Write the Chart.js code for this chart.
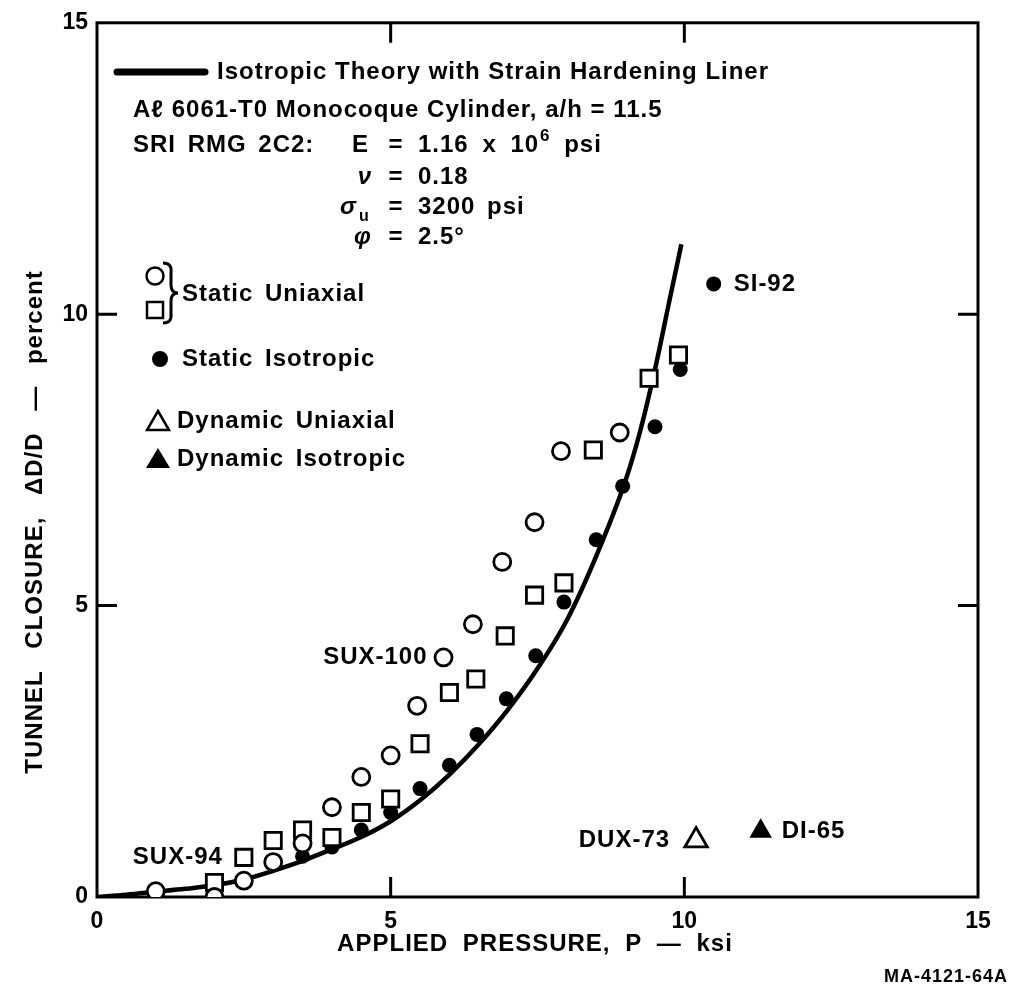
<!DOCTYPE html>
<html>
<head>
<meta charset="utf-8">
<script src="https://cdn.jsdelivr.net/npm/chart.js@4.4.1/dist/chart.umd.min.js"></script>
<style>
  html, body { margin: 0; padding: 0; background: #fff; }
  #wrap { width: 1013px; height: 992px; }
</style>
</head>
<body>
<div id="wrap"><canvas id="closure" width="1013" height="992"></canvas></div>
<script>
// Tunnel closure vs applied pressure, Al 6061-T0 monocoque cylinders in SRI RMG 2C2

const xTicks = [0, 5, 10, 15];
const yTicks = [0, 5, 10, 15];

// isotropic theory with strain hardening liner
const theoryP = [0, 0.5, 1, 1.5, 2, 2.5, 3, 3.5, 4, 4.5, 5, 5.5, 6, 6.5, 7, 7.5, 8, 8.5, 9, 9.25, 9.5, 9.75, 9.95];
const theoryClosure = [0, 0.04, 0.09, 0.14, 0.2, 0.3, 0.45, 0.62, 0.82, 1.03, 1.3, 1.66, 2.1, 2.62, 3.22, 3.92, 4.75, 5.85, 7.15, 8.0, 9.05, 10.25, 11.2];

// SUX-100, static uniaxial (open circles)
const sux100P = [1.0, 2.0, 2.5, 3.0, 3.5, 4.0, 4.5, 5.0, 5.45, 5.9, 6.4, 6.9, 7.45, 7.9, 8.9];
const sux100Closure = [0.1, 0.0, 0.28, 0.6, 0.92, 1.54, 2.06, 2.43, 3.28, 4.11, 4.68, 5.75, 6.43, 7.65, 7.97];

// SUX-94, static uniaxial (open squares)
const sux94P = [2.0, 2.5, 3.0, 3.5, 4.0, 4.5, 5.0, 5.5, 6.0, 6.45, 6.95, 7.45, 7.95, 8.45, 9.4, 9.9];
const sux94Closure = [0.25, 0.68, 0.97, 1.15, 1.02, 1.45, 1.68, 2.63, 3.51, 3.74, 4.48, 5.18, 5.39, 7.67, 8.9, 9.3];

// SI-92, static isotropic
const si92P = [3.5, 4.0, 4.5, 5.0, 5.5, 6.0, 6.47, 6.97, 7.47, 7.95, 8.5, 8.95, 9.5, 9.93, 10.5];
const si92Closure = [0.7, 0.86, 1.15, 1.45, 1.86, 2.26, 2.79, 3.4, 4.14, 5.06, 6.13, 7.05, 8.07, 9.05, 10.52];

// dynamic tests
const dux73P = [10.2];
const dux73Closure = [0.97];
const di65P = [11.3];
const di65Closure = [1.13];

const FONT = '"Liberation Sans", Arial, sans-serif';
const pts = (xs, ys) => xs.map((x, i) => ({ x, y: ys[i] }));

// test ids written next to one point of each series
const pointLabels = [
  { ds: 1, index: 9, text: 'SUX-100', side: 'left', gap: 16 },
  { ds: 2, index: 1, text: 'SUX-94', side: 'left', gap: 21 },
  { ds: 3, index: 14, text: 'SI-92', side: 'right', gap: 20 },
  { ds: 4, index: 0, text: 'DUX-73', side: 'left', gap: 26 },
  { ds: 5, index: 0, text: 'DI-65', side: 'right', gap: 21 },
];

function text(ctx, str, x, y, font, align, word) {
  ctx.font = font;
  ctx.letterSpacing = '1px';
  ctx.wordSpacing = (word || 0) + 'px';
  ctx.textAlign = align || 'left';
  ctx.textBaseline = 'middle';
  ctx.fillText(str, x, y);
  return x + ctx.measureText(str).width;
}

const framePlugin = {
  id: 'frame',
  beforeDatasetsDraw(chart) {
    const { ctx, chartArea: a, scales: { x, y } } = chart;
    ctx.save();
    ctx.strokeStyle = '#000';
    ctx.lineWidth = 3;
    ctx.strokeRect(a.left, a.top, a.right - a.left, a.bottom - a.top);
    // inward ticks on all four sides
    const len = 20;
    ctx.beginPath();
    xTicks.slice(1, -1).forEach(v => {
      const px = x.getPixelForValue(v);
      ctx.moveTo(px, a.bottom); ctx.lineTo(px, a.bottom - len);
      ctx.moveTo(px, a.top); ctx.lineTo(px, a.top + len);
    });
    yTicks.slice(1, -1).forEach(v => {
      const py = y.getPixelForValue(v);
      ctx.moveTo(a.left, py); ctx.lineTo(a.left + len, py);
      ctx.moveTo(a.right, py); ctx.lineTo(a.right - len, py);
    });
    ctx.stroke();
    ctx.restore();
  }
};

const notesPlugin = {
  id: 'notes',
  afterDatasetsDraw(chart) {
    const { ctx } = chart;
    const f = 'bold 24px ' + FONT;
    const fi = 'italic bold 24px ' + FONT;
    const fs = 'bold 16px ' + FONT;
    ctx.save();
    ctx.fillStyle = '#000';
    ctx.strokeStyle = '#000';

    // theory line key
    ctx.lineWidth = 7;
    ctx.lineCap = 'round';
    ctx.beginPath();
    ctx.moveTo(117, 72); ctx.lineTo(205, 72);
    ctx.stroke();
    text(ctx, 'Isotropic Theory with Strain Hardening Liner', 217, 72, f);

    text(ctx, 'A\u2113 6061-T0 Monocoque Cylinder, a/h = 11.5', 133, 110, f);
    text(ctx, 'SRI RMG 2C2:', 133, 145, f, 'left', 4);

    // material constants, aligned on "="
    const eqX = 396, valX = 418;
    text(ctx, 'E', 369, 145, f, 'right');
    text(ctx, '=', eqX, 145, f, 'center');
    let e = text(ctx, '1.16 x 10', valX, 145, f, 'left', 6);
    e = text(ctx, '6', e + 1, 136, 'bold 17px ' + FONT);
    text(ctx, ' psi', e + 2, 145, f, 'left', 4);

    text(ctx, '\u03bd', 372, 177, fi, 'right');
    text(ctx, '=', eqX, 177, f, 'center');
    text(ctx, '0.18', valX, 177, f);

    text(ctx, '\u03c3', 357, 207, fi, 'right');
    text(ctx, 'u', 359, 217, fs);
    text(ctx, '=', eqX, 207, f, 'center');
    text(ctx, '3200 psi', valX, 207, f, 'left', 4);

    text(ctx, '\u03c6', 372, 237, fi, 'right');
    text(ctx, '=', eqX, 237, f, 'center');
    text(ctx, '2.5\u00b0', valX, 237, f);

    // symbol key
    ctx.lineWidth = 2.5;
    ctx.lineCap = 'butt';
    ctx.beginPath(); ctx.arc(155, 276, 8.5, 0, Math.PI * 2); ctx.stroke();
    ctx.strokeRect(147, 302, 16, 16);
    ctx.lineWidth = 3;
    ctx.beginPath();
    ctx.moveTo(163, 263);
    ctx.quadraticCurveTo(172, 263, 171, 272);
    ctx.lineTo(171, 285);
    ctx.quadraticCurveTo(171, 293, 178, 293);
    ctx.quadraticCurveTo(171, 293, 171, 301);
    ctx.lineTo(171, 314);
    ctx.quadraticCurveTo(172, 323, 163, 323);
    ctx.stroke();
    text(ctx, 'Static Uniaxial', 182, 294, f, 'left', 4);

    ctx.beginPath(); ctx.arc(160, 359, 8, 0, Math.PI * 2); ctx.fill();
    text(ctx, 'Static Isotropic', 182, 359, f, 'left', 4);

    ctx.lineWidth = 2.5;
    ctx.beginPath();
    ctx.moveTo(158, 411); ctx.lineTo(169, 430); ctx.lineTo(147, 430); ctx.closePath();
    ctx.stroke();
    text(ctx, 'Dynamic Uniaxial', 177, 421, f, 'left', 4);

    ctx.beginPath();
    ctx.moveTo(158, 448); ctx.lineTo(170, 468); ctx.lineTo(146, 468); ctx.closePath();
    ctx.fill();
    text(ctx, 'Dynamic Isotropic', 177, 459, f, 'left', 4);

    // test ids beside their points
    pointLabels.forEach(l => {
      const el = chart.getDatasetMeta(l.ds).data[l.index];
      if (l.side === 'left') text(ctx, l.text, el.x - l.gap, el.y, f, 'right');
      else text(ctx, l.text, el.x + l.gap, el.y, f);
    });

    // axis titles
    text(ctx, 'APPLIED PRESSURE, P \u2014 ksi', 535, 944, f, 'center', 7);
    ctx.save();
    ctx.translate(35, 522);
    ctx.rotate(-Math.PI / 2);
    text(ctx, 'TUNNEL CLOSURE, \u0394D/D \u2014 percent', 0, 0, f, 'center', 14);
    ctx.restore();

    text(ctx, 'MA-4121-64A', 1008, 977, 'bold 18px ' + FONT, 'right');
    ctx.restore();
  }
};

const marker = (style, radius, fill) => ({
  type: 'scatter',
  pointStyle: style,
  pointRadius: radius,
  pointHoverRadius: radius,
  pointBorderWidth: fill ? 0 : 2.8,
  backgroundColor: fill ? '#000' : '#fff',
  borderColor: '#000',
});

new Chart(document.getElementById('closure'), {
  type: 'scatter',
  data: {
    datasets: [
      // highest order, so the theory curve sits under the markers
      { type: 'line', data: pts(theoryP, theoryClosure), borderColor: '#000', borderWidth: 4.5,
        pointRadius: 0, cubicInterpolationMode: 'monotone', fill: false, order: 3 },
      { ...marker('circle', 8.5, false), data: pts(sux100P, sux100Closure), order: 0 },
      { ...marker('rect', 11.5, false), data: pts(sux94P, sux94Closure), order: 1 },
      { ...marker('circle', 7.5, true), data: pts(si92P, si92Closure), order: 2 },
      { ...marker('triangle', 13, false), data: pts(dux73P, dux73Closure), order: 0 },
      { ...marker('triangle', 13, true), data: pts(di65P, di65Closure), order: 0 },
    ]
  },
  options: {
    responsive: false,
    animation: false,
    events: [],
    layout: { padding: { top: 20, right: 35, left: 0, bottom: 0 } },
    plugins: { legend: { display: false }, tooltip: { enabled: false } },
    scales: {
      x: {
        type: 'linear', min: 0, max: 15,
        afterBuildTicks: s => { s.ticks = xTicks.map(v => ({ value: v })); },
        afterFit: s => { s.height = 95; },
        grid: { display: false, drawTicks: false },
        border: { display: false },
        ticks: { color: '#000', padding: 11, maxRotation: 0, font: { family: FONT, size: 23, weight: 'bold' } }
      },
      y: {
        type: 'linear', min: 0, max: 15,
        afterBuildTicks: s => { s.ticks = yTicks.map(v => ({ value: v })); },
        afterFit: s => { s.width = 97; },
        grid: { display: false, drawTicks: false },
        border: { display: false },
        ticks: { color: '#000', padding: 9, font: { family: FONT, size: 23, weight: 'bold' } }
      }
    }
  },
  plugins: [framePlugin, notesPlugin]
});
</script>
</body>
</html>
